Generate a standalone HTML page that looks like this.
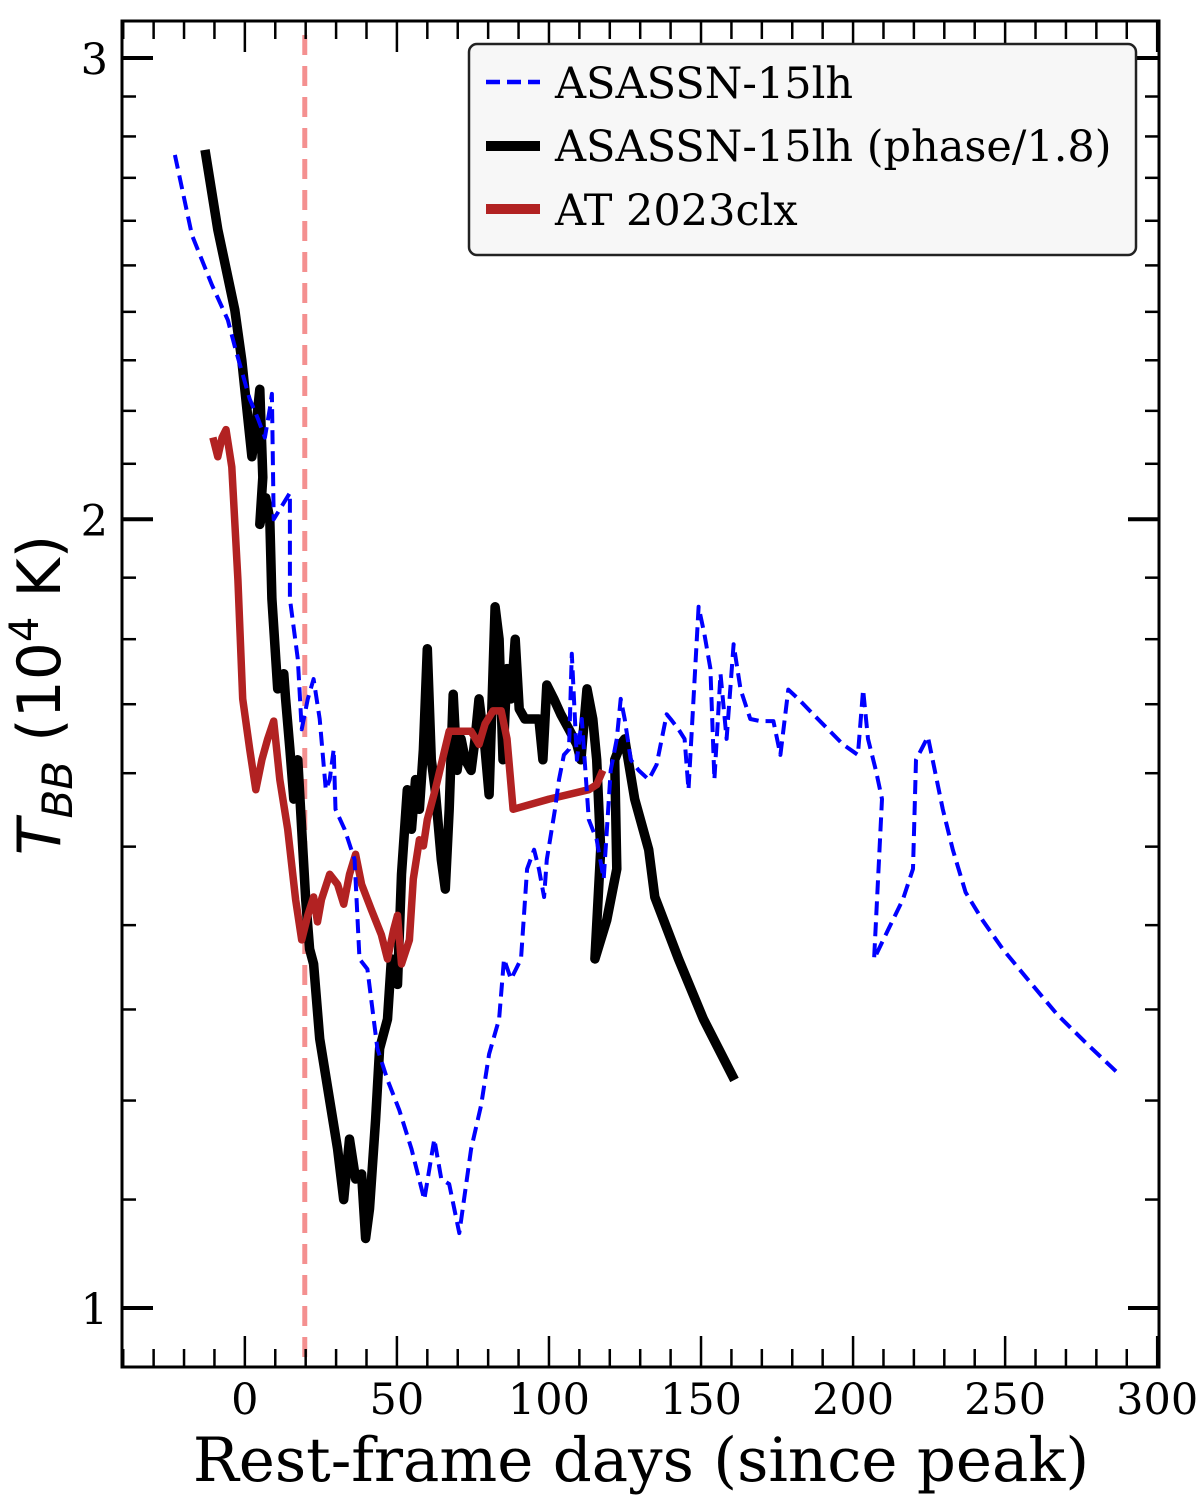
<!DOCTYPE html>
<html><head><meta charset="utf-8"><style>
html,body{margin:0;padding:0;background:#fff;}
svg{display:block;}
</style></head><body>
<svg id="chart" width="1200" height="1496" viewBox="0 0 1200 1496" xmlns="http://www.w3.org/2000/svg">
<g id="marks"></g>
<g id="axes"></g>
<g id="legend">
 <rect x="469" y="44" width="667" height="211" rx="8" fill="#f7f7f7" stroke="#222" stroke-width="2.5"/>
 <line x1="486" y1="82" x2="540" y2="82" stroke="#0000ff" stroke-width="4.5" stroke-dasharray="14,7"/>
 <text x="555" y="98" font-family="DejaVu Serif, Liberation Serif, serif" font-size="43">ASASSN-15lh</text>
 <line x1="486" y1="146" x2="540" y2="146" stroke="#000" stroke-width="10"/>
 <text x="555" y="161" font-family="DejaVu Serif, Liberation Serif, serif" font-size="43">ASASSN-15lh (phase/1.8)</text>
 <line x1="486" y1="209" x2="540" y2="209" stroke="#b22222" stroke-width="10"/>
 <text x="555" y="225" font-family="DejaVu Serif, Liberation Serif, serif" font-size="43">AT 2023clx</text>
</g>
<text x="641" y="1481" text-anchor="middle" font-family="DejaVu Serif, Liberation Serif, serif" font-size="61">Rest-frame days (since peak)</text>
<text transform="translate(60,695) rotate(-90)" text-anchor="middle" font-family="DejaVu Sans, Liberation Sans, sans-serif" font-size="60"><tspan font-style="italic">T</tspan><tspan font-style="italic" font-size="42" dy="12">BB</tspan><tspan dy="-12"> (10</tspan><tspan font-size="40" dy="-22">4</tspan><tspan dy="22"> K)</tspan></text>
</svg>
<script>
const blueDays=[-23.0,-17.4,-10.8,-5.6,-3.0,1.6,4.3,6.6,8.2,8.9,9.5,14.8,14.8,17.4,18.7,20.7,22.6,24.6,26.6,27.9,29.2,29.8,32.8,36.1,37.7,40.3,43.6,46.9,50.8,54.8,59.0,62.3,64.6,67.2,70.5,74.4,77.7,80.3,83.6,85.2,87.5,90.8,92.8,95.1,96.7,98.4,99.3,102,103.3,104.9,106.6,107.5,109.2,110.8,113.1,115.7,118,120.3,122.3,123.6,124.9,126.9,129.5,132.8,135.4,138.7,140,142.6,144.6,145.9,149.2,151.1,153.1,154.4,156.4,158.4,160.7,163,166.2,169.5,173.8,176.1,178.7,182,186.9,191.8,196.7,201.6,203.3,204.9,207.5,209.5,206.9,211.5,216.4,219.7,220.7,224.6,229.5,232.8,237,242.6,249.2,257.4,267.2,277,287.5];
const blueTemp=[2.755,2.568,2.457,2.383,2.321,2.223,2.185,2.149,2.204,2.233,2.0,2.047,1.865,1.769,1.663,1.708,1.738,1.678,1.577,1.591,1.634,1.550,1.523,1.483,1.359,1.347,1.256,1.222,1.19,1.15,1.10,1.16,1.12,1.115,1.068,1.15,1.195,1.25,1.289,1.359,1.335,1.359,1.471,1.496,1.471,1.435,1.483,1.550,1.591,1.626,1.634,1.777,1.619,1.678,1.536,1.509,1.458,1.604,1.649,1.708,1.678,1.619,1.604,1.591,1.612,1.685,1.678,1.663,1.649,1.577,1.852,1.808,1.754,1.591,1.746,1.649,1.792,1.722,1.678,1.675,1.675,1.626,1.722,1.708,1.685,1.663,1.641,1.626,1.722,1.649,1.604,1.564,1.359,1.394,1.432,1.471,1.619,1.652,1.550,1.496,1.441,1.406,1.371,1.335,1.294,1.261,1.228];
const blackDays=[-13.1,-8.9,-3.3,-1.0,1.0,2.3,3.6,4.9,5.9,4.9,6.9,8.2,8.9,10.8,12.8,13.4,14.8,16.1,17.4,18.7,20,21.3,22.6,24.6,27.9,30.5,32.5,34.4,36.4,38.4,39.7,41,43,44.3,46.9,48.2,50.2,51.5,53.4,54.8,56.1,57.4,58.7,60,61.3,62.6,64.6,65.9,67.2,68.5,69.8,71.1,72.5,74.4,75.7,77,79,80.3,82.3,83.6,84.9,86.2,87.5,88.9,90.2,92.1,94.8,96.7,98,99.3,101.6,103.9,106.6,109.2,110.5,112.5,114.4,115.7,117,115.1,119,122.3,121.6,123.6,124.9,128.2,132.8,134.8,142.6,150.8,161];
const blackTemp=[2.767,2.58,2.404,2.3,2.185,2.113,2.167,2.242,2.075,1.991,2.038,2.0,1.865,1.723,1.746,1.708,1.634,1.564,1.619,1.523,1.432,1.371,1.353,1.267,1.2,1.15,1.1,1.16,1.12,1.125,1.063,1.091,1.18,1.256,1.289,1.359,1.329,1.464,1.577,1.523,1.591,1.550,1.634,1.785,1.619,1.577,1.483,1.445,1.550,1.715,1.604,1.649,1.619,1.604,1.649,1.708,1.634,1.570,1.852,1.8,1.619,1.754,1.708,1.8,1.693,1.678,1.678,1.678,1.619,1.729,1.708,1.685,1.663,1.641,1.619,1.723,1.678,1.619,1.496,1.359,1.406,1.471,1.619,1.641,1.649,1.564,1.496,1.435,1.359,1.289,1.222];
const redDays=[-10.5,-8.9,-7.5,-6.2,-4.3,-2.3,-0.7,1.6,3.6,5.6,7.5,9.5,11.5,14.1,16.7,18.7,20.7,22.6,23.9,25.2,27.9,30.5,32.5,34.4,36.4,38.4,41.6,44.9,46.9,48.9,50.2,51.5,54.1,55.4,57.4,58.7,60,62.6,67.2,74.4,77,79,81.6,84.3,86.2,88.2,100,113.1,115.7,117.7];
const redTemp=[2.149,2.113,2.149,2.164,2.094,1.897,1.708,1.634,1.577,1.619,1.649,1.675,1.591,1.523,1.432,1.382,1.412,1.435,1.404,1.432,1.464,1.451,1.426,1.464,1.490,1.451,1.419,1.388,1.359,1.394,1.412,1.353,1.382,1.458,1.509,1.501,1.536,1.577,1.660,1.660,1.641,1.671,1.690,1.690,1.649,1.550,1.564,1.577,1.584,1.604];
const peakLineDay=19.7;
const xTickLabels=[0,50,100,150,200,250,300];
const yTickLabels=[1,2,3];

const L=122,R=1159,T=21,B=1367;
const xMin=-40.4,xMax=300.6;
const yRef=1308,pxPerDecade=2620;
function xs(d){return L+(d-xMin)/(xMax-xMin)*(R-L);}
function ys(t){return yRef-Math.log10(t)*pxPerDecade;}
const NS='http://www.w3.org/2000/svg';
function mk(tag,parent,attrs){const e=document.createElementNS(NS,tag);for(const k in attrs)e.setAttribute(k,attrs[k]);parent.appendChild(e);return e;}
const marks=document.getElementById('marks');
const axes=document.getElementById('axes');

const vl=mk('line',marks,{x1:xs(peakLineDay),x2:xs(peakLineDay),y1:T+14,y2:B,stroke:'#f49090','stroke-width':5,'stroke-dasharray':'20,11'});



function series(days,temps,attrs,name){
  const pts=days.map((d,i)=>xs(d).toFixed(1)+','+ys(temps[i]).toFixed(1)).join(' ');
  const p=mk('polyline',marks,Object.assign({points:pts,fill:'none','stroke-linejoin':'round'},attrs));
  
  
}
series(blackDays,blackTemp,{stroke:'#000','stroke-width':9.5},'asassn-15lh-scaled-line');
series(redDays,redTemp,{stroke:'#b22222','stroke-width':7.5},'at2023clx-line');
series(blueDays,blueTemp,{stroke:'#0000ff','stroke-width':4,'stroke-dasharray':'14,7'},'asassn-15lh-line');

const fr=mk('rect',axes,{x:L,y:T,width:R-L,height:B-T,fill:'none',stroke:'#000','stroke-width':3});



for(let d=-40;d<=300;d+=10){
  const x=xs(d);const major=d%50===0;const len=major?31:18;
  mk('line',axes,{x1:x,x2:x,y1:B,y2:B-len,stroke:'#000','stroke-width':2.5});
  mk('line',axes,{x1:x,x2:x,y1:T,y2:T+len,stroke:'#000','stroke-width':2.5});
}
xTickLabels.forEach(v=>{
  const t=mk('text',axes,{x:xs(v),y:1414,'text-anchor':'middle','font-family':'DejaVu Serif, Liberation Serif, serif','font-size':43});
  t.textContent=v;
  
  
});
for(let i=10;i<=31;i++){
  const v=i/10;const y=ys(v);if(y<T||y>B)continue;
  const major=(i%10===0);const len=major?31:14;const w=major?4:2.5;
  mk('line',axes,{x1:L,x2:L+len,y1:y,y2:y,stroke:'#000','stroke-width':w});
  mk('line',axes,{x1:R,x2:R-len,y1:y,y2:y,stroke:'#000','stroke-width':w});
}
yTickLabels.forEach(v=>{
  const t=mk('text',axes,{x:108,y:ys(v)+16,'text-anchor':'end','font-family':'DejaVu Serif, Liberation Serif, serif','font-size':43});
  t.textContent=v;
  
  
});
</script>
</body></html>
